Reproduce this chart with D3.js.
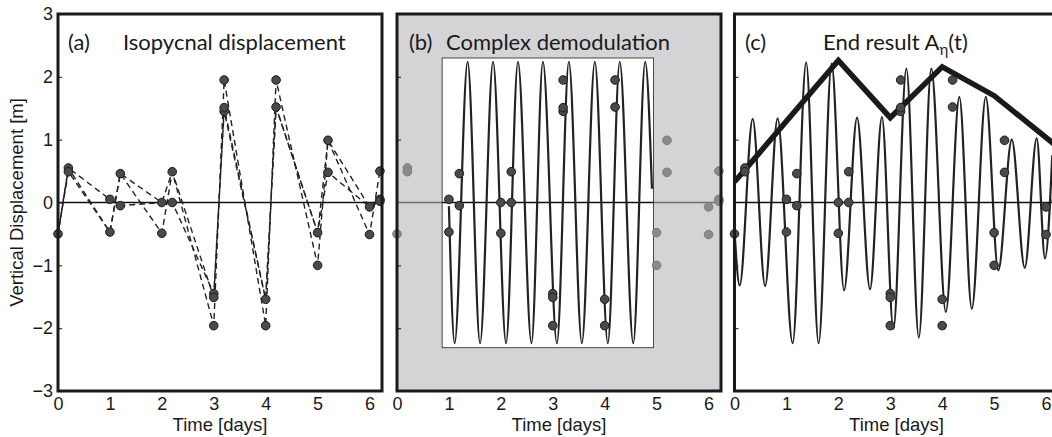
<!DOCTYPE html>
<html>
<head>
<meta charset="utf-8">
<script src="https://cdn.jsdelivr.net/npm/d3@7"></script>
<style>
  body { margin: 0; background: #fff; }
  svg { display: block; }
</style>
</head>
<body>
<svg id="fig" width="1052" height="437"></svg>
<script>
// datos: muestras cada dia (dos por dia), tres series
const tiempos = [0, 0.2, 1, 1.2, 2, 2.2, 3, 3.2, 4, 4.2, 5, 5.2, 6, 6.2]
const serie1 = [-0.5, 0.55, 0.05, -0.05, 0.0, 0.0, -1.45, 1.45, -1.54, 1.52, -0.48, 0.48, -0.07, 0.05]
const serie2 = [-0.5, 0.49, -0.47, 0.46, -0.49, 0.49, -1.96, 1.95, -1.96, 1.95, -1.0, 0.99, -0.51, 0.5]
const serie3 = [-0.5, 0.55, -0.47, 0.46, 0.0, 0.49, -1.51, 1.51, -1.54, 1.52, -0.48, 0.99, -0.07, 0.02]

const xTicks = [0, 1, 2, 3, 4, 5, 6]
const yTicks = [-3, -2, -1, 0, 1, 2, 3]

// ventana de la demodulacion (b)
const ventanaT = [0.87, 4.94]
const ventanaY = [-2.31, 2.3]

// ajuste en la ventana (b): inicio, extremos, final
const ajusteT = [1.0, 1.11, 1.36, 1.60, 1.85, 2.10, 2.33, 2.59, 2.81, 3.08, 3.31, 3.56, 3.81, 4.06, 4.29, 4.55, 4.78, 4.91]
const ajusteY = [-0.06, -2.24, 2.24, -2.24, 2.24, -2.24, 2.24, -2.24, 2.24, -2.24, 2.24, -2.24, 2.24, -2.24, 2.24, -2.24, 2.24, 0.22]

// resultado final (c): senal reconstruida
const finalT = [0, 0.10, 0.35, 0.59, 0.83, 1.12, 1.38, 1.62, 1.87, 2.11, 2.36, 2.61, 2.84, 3.06, 3.31, 3.55, 3.79, 4.07, 4.33, 4.57, 4.84, 5.08, 5.34, 5.59, 5.82, 5.98, 6.12]
const finalY = [-0.45, -1.32, 1.33, -1.33, 1.34, -2.24, 2.23, -2.24, 2.21, -1.40, 1.35, -1.38, 1.36, -2.01, 2.13, -2.15, 2.13, -1.74, 1.68, -1.69, 1.68, -1.08, 1.0, -1.04, 1.02, -0.89, 0.75]

// envolvente A_eta(t)
const envT = [0, 0.2, 2, 3, 4, 5, 6.2]
const envY = [0.33, 0.52, 2.26, 1.35, 2.16, 1.70, 0.90]

const svg = d3.select("#fig")
const top0 = 14, bottom0 = 391
const y = d3.scaleLinear().domain([-3, 3]).range([bottom0, top0])
const ejeX = x0 => d3.scaleLinear().domain([0, 6.24]).range([x0, x0 + 324])
const xa = ejeX(58), xb = ejeX(397), xc = ejeX(734.5)

const fuenteEje = "'Liberation Sans', Arial, sans-serif"
const fuenteTit = "Lato, 'Open Sans', sans-serif"

// puntos unicos
const puntos = []
;[serie1, serie2, serie3].forEach(s => s.forEach((v, i) => {
  if (!puntos.some(p => p.t === tiempos[i] && p.v === v)) puntos.push({ t: tiempos[i], v: v })
}))

function marco(x, id) {
  const g = svg.append("g")
  const [x0, x1] = x.range()
  svg.append("clipPath").attr("id", "clip" + id)
    .append("rect").attr("x", x0).attr("y", top0).attr("width", x1 - x0).attr("height", bottom0 - top0)
  return g
}

function ejes(g, x, conNumeros) {
  const [x0, x1] = x.range()
  const ax = g.append("g").attr("transform", "translate(0," + bottom0 + ")")
    .call(d3.axisBottom(x).tickValues(xTicks).tickSize(0).tickPadding(6).tickFormat(d3.format("d")))
  ax.select(".domain").remove()
  ax.selectAll("text").style("font-family", fuenteEje).style("font-size", "18px").attr("fill", "#1a1a1a")

  const ay = g.append("g").attr("transform", "translate(" + x0 + ",0)")
    .call(d3.axisLeft(y).tickValues(conNumeros ? yTicks : [-2, -1, 1, 2]).tickSize(-4).tickPadding(5)
      .tickFormat(conNumeros ? d3.format("d") : ""))
  ay.select(".domain").remove()
  ay.selectAll("line").attr("stroke", "#333").attr("stroke-width", 1.2)
  ay.selectAll("text").style("font-family", fuenteEje).style("font-size", "18px").attr("fill", "#1a1a1a")

  g.append("text")
    .attr("x", (x0 + x1) / 2).attr("y", 431)
    .attr("text-anchor", "middle")
    .style("font-family", fuenteEje).style("font-size", "18.5px").attr("fill", "#1a1a1a")
    .text("Time [days]")

  g.append("rect")
    .attr("x", x0).attr("y", top0).attr("width", x1 - x0).attr("height", bottom0 - top0)
    .attr("fill", "none").attr("stroke", "#1a1a1a").attr("stroke-width", 3)
}

function circulos(g, x, colorFn) {
  g.selectAll(null).data(puntos).enter().append("circle")
    .attr("cx", d => x(d.t)).attr("cy", d => y(d.v)).attr("r", 4.3)
    .attr("fill", d => colorFn(d)[0]).attr("stroke", d => colorFn(d)[1]).attr("stroke-width", 1)
}

function titulo(g, etiqueta, xEt, texto, xTx) {
  g.append("text").attr("x", xEt).attr("y", 50)
    .style("font-family", fuenteTit).style("font-size", "22px").attr("fill", "#1a1a1a").text(etiqueta)
  return g.append("text").attr("x", xTx).attr("y", 50)
    .style("font-family", fuenteTit).style("font-size", "22px").attr("fill", "#1a1a1a").text(texto)
}

const oscuro = () => ["#4a4a4a", "#1c1c1c"]

// (a) desplazamiento isopicnal
const gA = marco(xa, "a")
gA.append("line").attr("x1", xa.range()[0]).attr("x2", xa.range()[1]).attr("y1", y(0)).attr("y2", y(0))
  .attr("stroke", "#111").attr("stroke-width", 1.6)
const lineaA = d3.line().x((d, i) => xa(tiempos[i])).y(d => y(d))
;[serie1, serie2, serie3].forEach((s, k) => {
  gA.append("path").attr("d", lineaA(s)).attr("fill", "none")
    .attr("stroke", "#222").attr("stroke-width", 1.4).attr("stroke-dasharray", "6,4")
    .attr("stroke-dashoffset", k * 3)
})
circulos(gA, xa, oscuro)
titulo(gA, "(a)", 68, "Isopycnal displacement", 123)
ejes(gA, xa, true)

svg.append("text")
  .attr("transform", "translate(23," + y(0) + ") rotate(-90)")
  .attr("text-anchor", "middle")
  .style("font-family", fuenteEje).style("font-size", "18.5px").attr("fill", "#1a1a1a")
  .text("Vertical Displacement [m]")

// (b) demodulacion compleja
const gB = marco(xb, "b")
gB.append("rect").attr("x", xb.range()[0]).attr("y", top0)
  .attr("width", xb.range()[1] - xb.range()[0]).attr("height", bottom0 - top0).attr("fill", "#d4d4d6")
gB.append("line").attr("x1", xb.range()[0]).attr("x2", xb.range()[1]).attr("y1", y(0)).attr("y2", y(0))
  .attr("stroke", "#6e6e6e").attr("stroke-width", 1.6)
gB.append("rect")
  .attr("x", xb(ventanaT[0])).attr("y", y(ventanaY[1]))
  .attr("width", xb(ventanaT[1]) - xb(ventanaT[0])).attr("height", y(ventanaY[0]) - y(ventanaY[1]))
  .attr("fill", "#fff").attr("stroke", "#4a4a4a").attr("stroke-width", 1)
gB.append("line").attr("x1", xb(ventanaT[0])).attr("x2", xb(ventanaT[1])).attr("y1", y(0)).attr("y2", y(0))
  .attr("stroke", "#111").attr("stroke-width", 1.6)
const lineaB = d3.line().x((d, i) => xb(ajusteT[i])).y(d => y(d)).curve(d3.curveMonotoneX)
gB.append("path").attr("d", lineaB(ajusteY)).attr("fill", "none")
  .attr("stroke", "#222").attr("stroke-width", 2.2)
circulos(gB, xb, d => (d.t >= ventanaT[0] && d.t <= ventanaT[1]) ? oscuro() : ["#8a8a8a", "#7c7c7c"])
titulo(gB, "(b)", 409, "Complex demodulation", 446)
ejes(gB, xb, false)

// (c) resultado final
const gC = marco(xc, "c")
const gCc = gC.append("g").attr("clip-path", "url(#clipc)")
const lineaC = d3.line().x((d, i) => xc(finalT[i])).y(d => y(d)).curve(d3.curveMonotoneX)
gCc.append("path").attr("d", lineaC(finalY)).attr("fill", "none")
  .attr("stroke", "#222").attr("stroke-width", 2.2)
gCc.append("line").attr("x1", xc.range()[0]).attr("x2", xc.range()[1]).attr("y1", y(0)).attr("y2", y(0))
  .attr("stroke", "#111").attr("stroke-width", 1.6)
circulos(gC, xc, oscuro)
const lineaEnv = d3.line().x((d, i) => xc(envT[i])).y(d => y(d))
gCc.append("path").attr("d", lineaEnv(envY)).attr("fill", "none")
  .attr("stroke", "#1a1a1a").attr("stroke-width", 5.5).attr("stroke-linejoin", "miter")
const tc = titulo(gC, "(c)", 745, "End result A", 823)
tc.append("tspan").attr("dy", 5).style("font-size", "15px").text("η")
tc.append("tspan").attr("dy", -5).text("(t)")
ejes(gC, xc, false)
</script>
</body>
</html>
